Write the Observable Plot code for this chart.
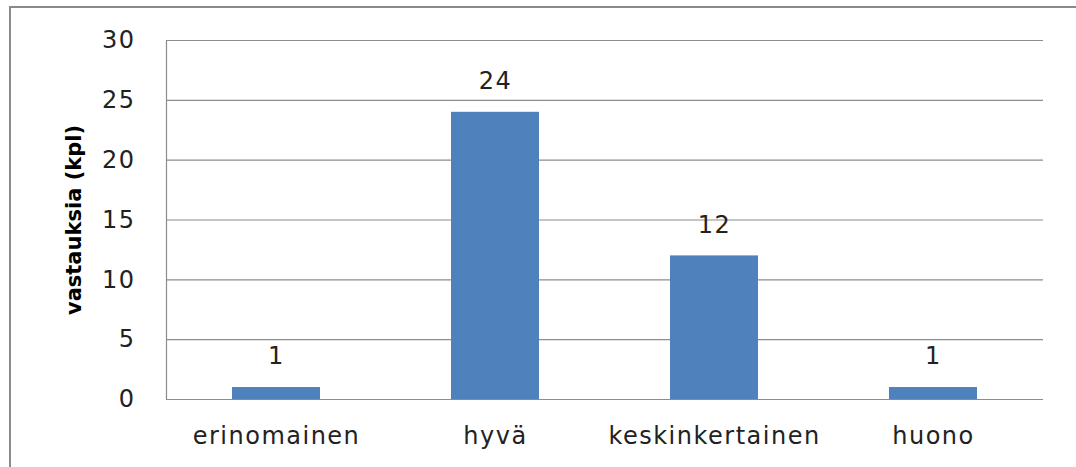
<!DOCTYPE html>
<html>
<head>
<meta charset="utf-8">
<script src="https://cdn.jsdelivr.net/npm/d3@7"></script>
<script src="https://cdn.jsdelivr.net/npm/@observablehq/plot@0.6"></script>
<style>
  html, body { margin: 0; padding: 0; background: #fff; overflow: hidden; }
  #wrap { position: relative; width: 1076px; height: 467px; overflow: hidden; }
  #frame { position: absolute; left: 9px; top: 6px; width: 1100px; height: 500px; border: 2px solid #8a8a8a; box-sizing: border-box; pointer-events: none; }
  #wrap svg text { letter-spacing: 1.5px; }
  #wrap svg text.ylab { letter-spacing: 0px; }
</style>
</head>
<body>
<div id="wrap"><div id="frame"></div></div>
<script>
const categories = ["erinomainen", "hyvä", "keskinkertainen", "huono"];
const values = [1, 24, 12, 1];
const yTicks = [0, 5, 10, 15, 20, 25, 30];
const yLabel = "vastauksia (kpl)";

const data = categories.map((c, i) => ({category: c, value: values[i]}));
const font = "DejaVu Sans, sans-serif";

const chart = Plot.plot({
  width: 1076,
  height: 467,
  marginLeft: 166,
  marginRight: 33,
  marginTop: 40,
  marginBottom: 68,
  style: {fontFamily: font, fontSize: "24px", color: "#222", background: "transparent", overflow: "visible"},
  x: {domain: categories, paddingInner: 0.6, paddingOuter: 0.3, label: null},
  y: {domain: [0, 30], ticks: yTicks, label: null},
  marks: [
    Plot.gridY(yTicks, {stroke: "#8c8c8c", strokeOpacity: 1, strokeWidth: 1.2}),
    Plot.frame({anchor: "left", stroke: "#8c8c8c", strokeWidth: 1.2}),
    Plot.barY(data, {x: "category", y: "value", fill: "#4f81bd"}),
    Plot.ruleY([0], {stroke: "#8c8c8c", strokeWidth: 1.2}),
    Plot.axisY(yTicks, {tickSize: 0, tickPadding: 31, fontSize: 24, fill: "#222", label: null}),
    Plot.axisX({tickSize: 0, tickPadding: 27, fontSize: 24, fill: "#222", label: null}),
    Plot.text(data, {x: "category", y: "value", text: d => String(d.value), dy: -31, fontSize: 24, fill: "#222"}),
    Plot.text([yLabel], {frameAnchor: "left", textAnchor: "middle", dx: -92, rotate: -90, fontWeight: "bold", fontSize: 21, fill: "#000", className: "ylab"})
  ]
});
chart.querySelectorAll("text").forEach(t => { if (t.textContent === yLabel) t.classList.add("ylab"); });
document.getElementById("wrap").prepend(chart);
</script>
</body>
</html>
